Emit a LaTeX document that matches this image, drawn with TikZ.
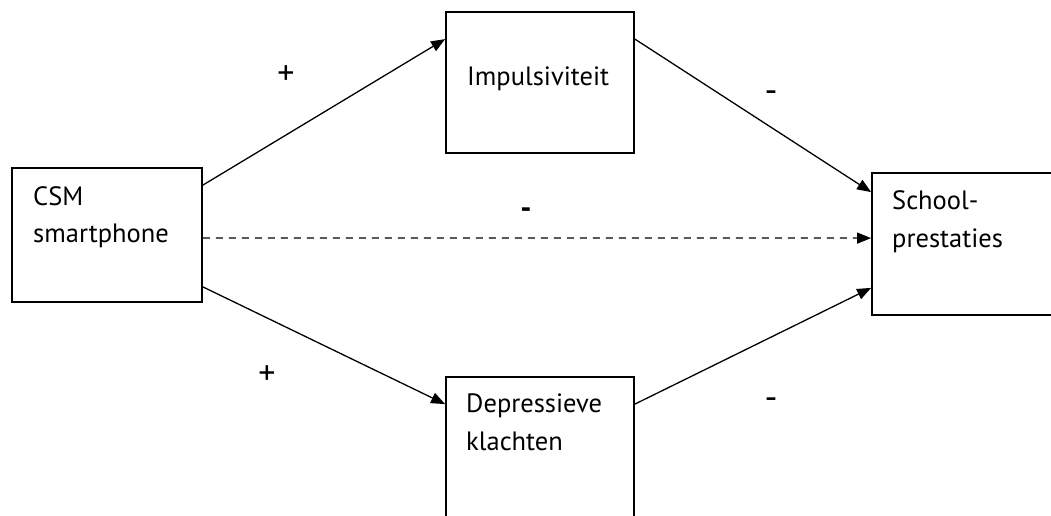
\documentclass[tikz,border=0pt]{standalone}
\usepackage{fontspec}
\setmainfont{PT Sans}
\usetikzlibrary{arrows.meta}
\begin{document}
\begin{tikzpicture}[x=1pt,y=-1pt,
  box/.style={draw,line width=1.8pt,minimum width=#1,inner sep=0pt},
  txt/.style={anchor=base west,inner sep=0pt,font=\fontsize{26.5}{37}\selectfont},
  sign/.style={inner sep=0pt,font=\fontsize{34}{38}\selectfont},
  dash sign/.style={inner sep=0pt,font=\fontsize{36}{40}\selectfont},
  conn/.style={line width=1.3pt,-{Triangle[length=14pt,width=11pt]}},
  dconn/.style={conn,dash pattern=on 7pt off 6pt}]
\useasboundingbox (0,0) rectangle (1051,516);
\clip (0,0) rectangle (1051,516);
% boxes
\node[box=190pt,minimum height=134pt] (L) at (107,235) {};
\node[box=188pt,minimum height=141pt] (I) at (540,82.5) {};
\node[box=198pt,minimum height=142pt] (S) at (971,244) {};
\node[box=188pt,minimum height=153pt] (D) at (540,453.5) {};
% texts
\node[txt] (tL1) at (33,205) {CSM};
\node[txt] (tL2) at (33,242) {smartphone};
\node[txt] (tI) at (467,86) {Impulsiviteit};
\node[txt] (tS1) at (892,209) {School-};
\node[txt] (tS2) at (892,247) {prestaties};
\node[txt] (tD1) at (466,412) {Depressieve};
\node[txt] (tD2) at (466,450) {klachten};
% connectors
\draw[conn] ([yshift=-18pt]L.north east) -- ([yshift=-28pt]I.north west);
\draw[conn] ([yshift=16pt]L.south east) -- ([yshift=-28pt]D.north west);
\draw[dconn] ([yshift=-3pt]L.east) -- ([yshift=-66pt]S.north west);
\draw[conn] ([yshift=-28pt]I.north east) -- ([yshift=-20pt]S.north west);
\draw[conn] ([yshift=-28pt]D.north east) -- ([yshift=28pt]S.south west);
% signs
\node[sign] (p1) at (286,75) {+};
\node[sign] (p2) at (267,375) {+};
\node[dash sign] (m1) at (771,97) {-};
\node[dash sign] (m2) at (771,404) {-};
\node[dash sign,font=\fontsize{31}{34}\selectfont\bfseries] (m3) at (526,213) {-};
\end{tikzpicture}
\end{document}
